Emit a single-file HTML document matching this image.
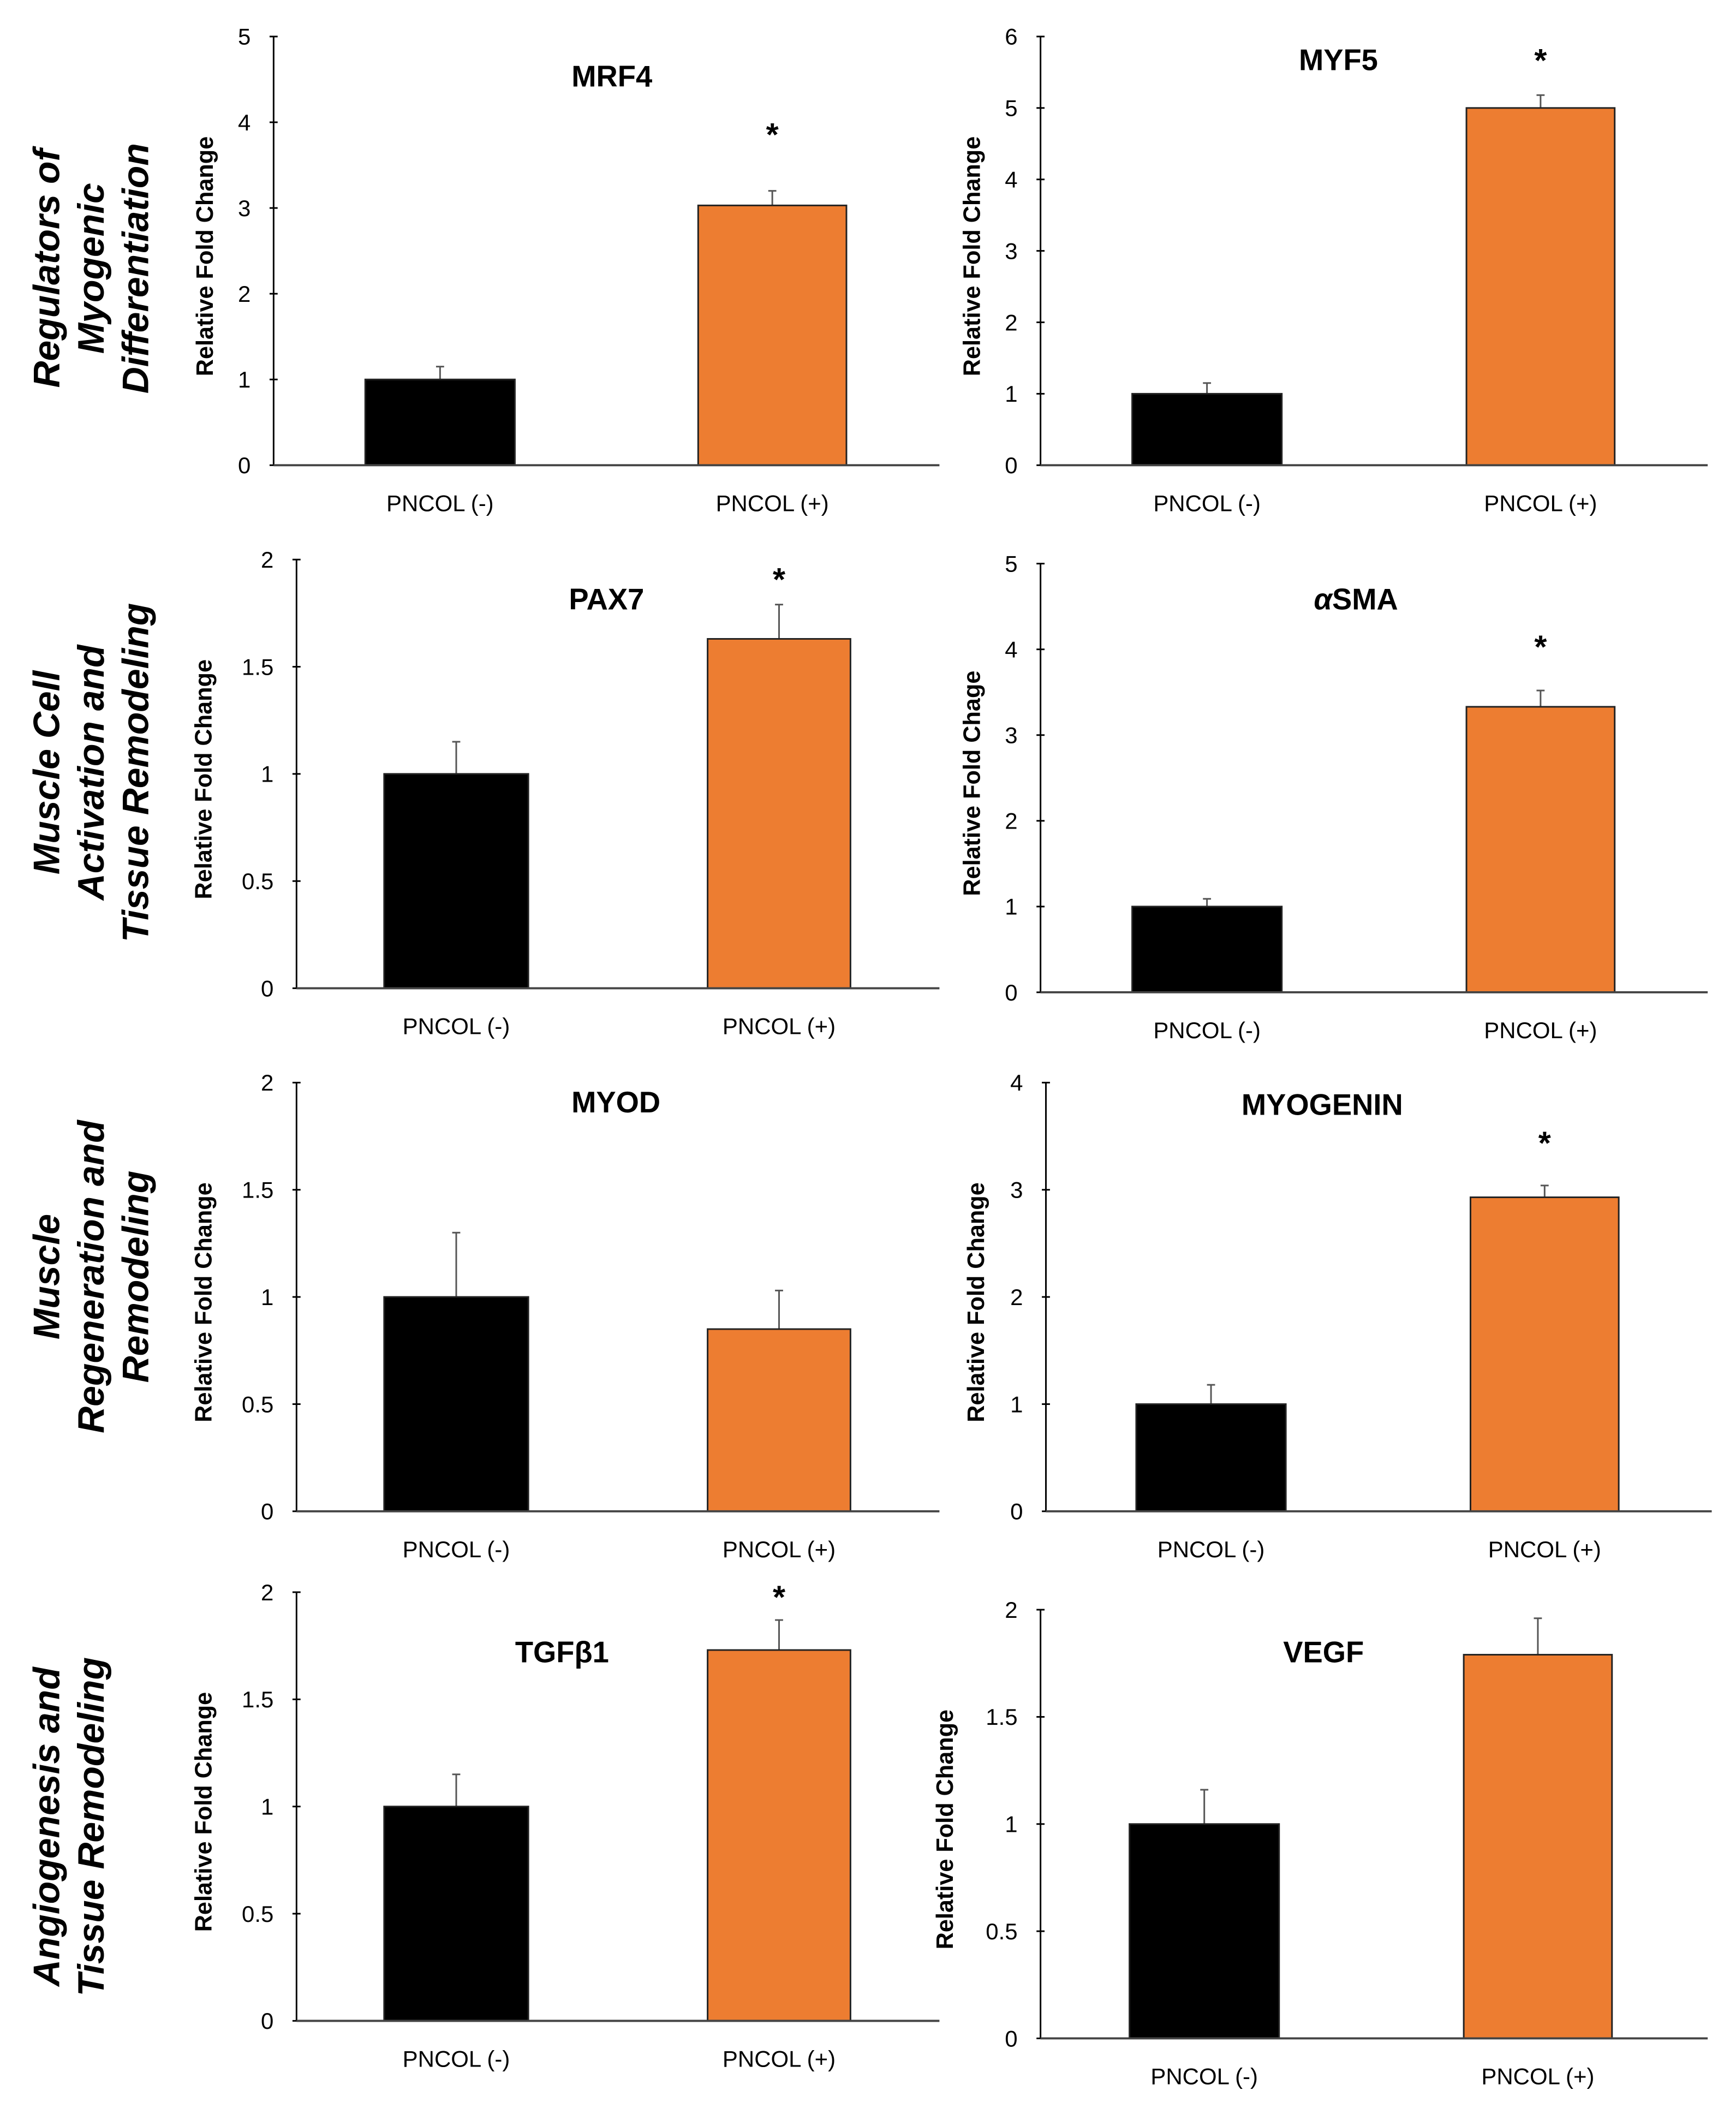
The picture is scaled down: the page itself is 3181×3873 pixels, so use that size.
<!DOCTYPE html>
<html><head><meta charset="utf-8"><style>
html,body{margin:0;padding:0;background:#fff;}
svg{display:block;}
text{font-family:"Liberation Sans",sans-serif;}
</style></head><body>
<svg id="fig" width="3181" height="3873" viewBox="0 0 1288 1568" xmlns="http://www.w3.org/2000/svg">
<g font-weight="bold" font-style="italic" font-size="27.5" fill="#000" text-anchor="middle">
<text transform="translate(0,199) rotate(-90)"><tspan x="0" y="44">Regulators of</tspan><tspan x="0" y="77">Myogenic</tspan><tspan x="0" y="110">Differentiation</tspan></text>
<text transform="translate(0,573) rotate(-90)"><tspan x="0" y="44">Muscle Cell</tspan><tspan x="0" y="77">Activation and</tspan><tspan x="0" y="110">Tissue Remodeling</tspan></text>
<text transform="translate(0,947) rotate(-90)"><tspan x="0" y="44">Muscle</tspan><tspan x="0" y="77">Regeneration and</tspan><tspan x="0" y="110">Remodeling</tspan></text>
<text transform="translate(0,1355) rotate(-90)"><tspan x="0" y="44">Angiogenesis and</tspan><tspan x="0" y="77">Tissue Remodeling</tspan></text>
</g>
<g id="charts"></g>
</svg>
<script>
const categories = ["PNCOL (-)", "PNCOL (+)"];
const titles = ["MRF4", "MYF5", "PAX7", "αSMA", "MYOD", "MYOGENIN", "TGFβ1", "VEGF"];
const yLabels = ["Relative Fold Change","Relative Fold Change","Relative Fold Change","Relative Fold Chage","Relative Fold Change","Relative Fold Change","Relative Fold Change","Relative Fold Change"];
const negValues = [1, 1, 1, 1, 1, 1, 1, 1];
const negErrors = [0.15, 0.15, 0.15, 0.09, 0.3, 0.18, 0.15, 0.16];
const posValues = [3.03, 5.0, 1.63, 3.33, 0.85, 2.93, 1.73, 1.79];
const posErrors = [0.17, 0.18, 0.16, 0.19, 0.18, 0.11, 0.14, 0.17];
const yMax = [5, 6, 2, 5, 2, 4, 2, 2];
const yStep = [1, 1, 0.5, 1, 0.5, 1, 0.5, 0.5];
const significant = [true, true, true, true, false, true, true, false];

// layout (display coordinates)
const layout = [
 {ax:203,top:27,y0:345,end:697,b1:[271,382],b2:[518,628],tx:454,ty:64,lx:158,sy:95},
 {ax:772,top:27,y0:345,end:1267,b1:[840,951],b2:[1088,1198],tx:993,ty:52,lx:727,sy:40},
 {ax:220,top:415,y0:733,end:697,b1:[285,392],b2:[525,631],tx:450,ty:452,lx:157,sy:425},
 {ax:772,top:418,y0:736,end:1267,b1:[840,951],b2:[1088,1198],tx:1006,ty:452,lx:727,sy:475},
 {ax:220,top:803,y0:1121,end:697,b1:[285,392],b2:[525,631],tx:457,ty:825,lx:157,sy:0},
 {ax:776,top:803,y0:1121,end:1270,b1:[843,954],b2:[1091,1201],tx:981,ty:827,lx:730,sy:843},
 {ax:220,top:1181,y0:1499,end:697,b1:[285,392],b2:[525,631],tx:417,ty:1233,lx:157,sy:1180},
 {ax:772,top:1194,y0:1512,end:1267,b1:[838,949],b2:[1086,1196],tx:982,ty:1233,lx:707,sy:0}
];
const NS = "http://www.w3.org/2000/svg";
const root = document.getElementById("charts");
function mk(tag, attrs, parent){const e=document.createElementNS(NS,tag);for(const k in attrs)e.setAttribute(k,attrs[k]);parent.appendChild(e);return e;}
for (let i=0;i<8;i++){
  const L = layout[i];
  const g = mk("g",{},root);
  
  
  const y = v => L.y0 - v/yMax[i]*(L.y0-L.top);
  const ya = mk("line",{x1:L.ax,x2:L.ax,y1:L.top,y2:L.y0,stroke:"#000","stroke-width":1.2},g);
  
  
  const n = Math.round(yMax[i]/yStep[i]);
  for (let k=0;k<=n;k++){
    const v = k*yStep[i];
    const tk = mk("line",{x1:L.ax-3,x2:L.ax+3,y1:y(v),y2:y(v),stroke:"#000","stroke-width":1.2},g);
    
    
    const t = mk("text",{x:L.ax-17,y:y(v)+6,"font-size":17,"text-anchor":"end",fill:"#000"},g);
    
    
    t.textContent = String(v);
  }
  const yl = mk("text",{transform:`translate(${L.lx},${(L.top+L.y0)/2+4}) rotate(-90)`,"font-size":17.5,"font-weight":"bold","text-anchor":"middle",fill:"#000"},g);
  
  
  yl.textContent = yLabels[i];
  const vals=[negValues[i],posValues[i]], errs=[negErrors[i],posErrors[i]], bx=[L.b1,L.b2], fills=["#000","#ED7D31"];
  for (let b=0;b<2;b++){
    const cx=(bx[b][0]+bx[b][1])/2;
    const el = mk("line",{x1:cx,x2:cx,y1:y(vals[b]),y2:y(vals[b]+errs[b]),stroke:"#555","stroke-width":1.2},g);
    
    
    const ec = mk("line",{x1:cx-3,x2:cx+3,y1:y(vals[b]+errs[b]),y2:y(vals[b]+errs[b]),stroke:"#555","stroke-width":1.2},g);
    
    
    const r = mk("rect",{x:bx[b][0],y:y(vals[b]),width:bx[b][1]-bx[b][0],height:L.y0-y(vals[b]),fill:fills[b],stroke:"#222","stroke-width":1.2},g);
    
    
    const xl = mk("text",{x:cx,y:L.y0+34,"font-size":17,"text-anchor":"middle",fill:"#000"},g);
    
    
    xl.textContent = categories[b];
  }
  const xa = mk("line",{x1:L.ax,x2:L.end,y1:L.y0,y2:L.y0,stroke:"#444","stroke-width":1.6},g);
  
  
  const tt = mk("text",{x:L.tx,y:L.ty,"font-size":22,"font-weight":"bold","text-anchor":"middle",fill:"#000"},g);
  
  
  if (titles[i]==="αSMA"){ const a=mk("tspan",{"font-style":"italic"},tt); a.textContent="α"; const s=mk("tspan",{},tt); s.textContent="SMA"; }
  else tt.textContent = titles[i];
  if (significant[i]){
    const cx=(L.b2[0]+L.b2[1])/2;
    const st = mk("text",{x:cx,y:L.sy+13,"font-size":24,"font-weight":"bold","text-anchor":"middle",fill:"#000"},g);
    
    
    st.textContent = "*";
  }
}
</script>
</body></html>
